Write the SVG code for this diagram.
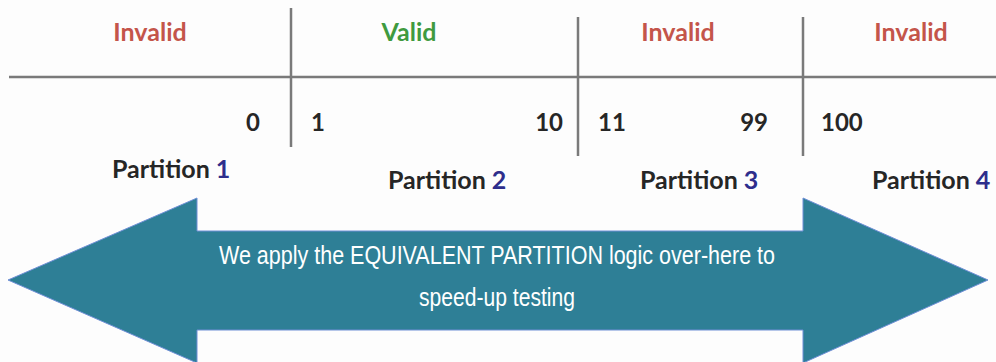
<svg xmlns="http://www.w3.org/2000/svg" width="996" height="362" viewBox="0 0 996 362">
<style>
.hdr{font-family:Lato,"Open Sans",sans-serif;font-weight:bold;font-size:25px;text-anchor:middle}
.inv{fill:#c4554a}
.val{fill:#3f9a3f}
.num{font-family:Lato,"Open Sans",sans-serif;font-weight:bold;font-size:24px;fill:#262626}
.part{font-family:Lato,"Open Sans",sans-serif;font-weight:bold;font-size:25px;fill:#262626}
.pn{fill:#2e2e8c}
.grid{stroke:#7a7a7a;stroke-width:2.5;fill:none}
.arrowtxt{font-family:"Liberation Sans",sans-serif;font-size:26px;fill:#ffffff;text-anchor:middle}
</style>
<rect width="996" height="362" fill="#fdfdfd"/>
<g id="grid">
<line class="grid" x1="9" y1="77" x2="996" y2="77"/>
<line class="grid" x1="291" y1="8" x2="291" y2="147"/>
<line class="grid" x1="578" y1="17" x2="578" y2="156"/>
<line class="grid" x1="803" y1="17" x2="803" y2="156"/>
</g>
<g id="headers">
<text class="hdr inv" x="150" y="41">Invalid</text>
<text class="hdr val" x="409" y="41">Valid</text>
<text class="hdr inv" x="678" y="41">Invalid</text>
<text class="hdr inv" x="911" y="41">Invalid</text>
</g>
<g id="numbers">
<text class="num" x="260" y="131" text-anchor="end">0</text>
<text class="num" x="311" y="131">1</text>
<text class="num" x="563" y="131" text-anchor="end">10</text>
<text class="num" x="598" y="131">11</text>
<text class="num" x="768" y="131" text-anchor="end">99</text>
<text class="num" x="821" y="131">100</text>
</g>
<g id="partitions">
<text class="part" x="112" y="178">Partition <tspan class="pn">1</tspan></text>
<text class="part" x="388" y="189">Partition <tspan class="pn">2</tspan></text>
<text class="part" x="640" y="189">Partition <tspan class="pn">3</tspan></text>
<text class="part" x="872" y="189">Partition <tspan class="pn">4</tspan></text>
</g>
<g id="arrow">
<polygon points="8,280 197,198 197,231 803,231 803,198 988,280 803,363 803,330 197,330 197,363" fill="#2e7f96" stroke="#6f8fd6" stroke-width="1"/>
<text class="arrowtxt" x="497" y="264" textLength="556" lengthAdjust="spacingAndGlyphs">We apply the EQUIVALENT PARTITION logic over-here to</text>
<text class="arrowtxt" x="497" y="306" textLength="156" lengthAdjust="spacingAndGlyphs">speed-up testing</text>
</g>
</svg>
